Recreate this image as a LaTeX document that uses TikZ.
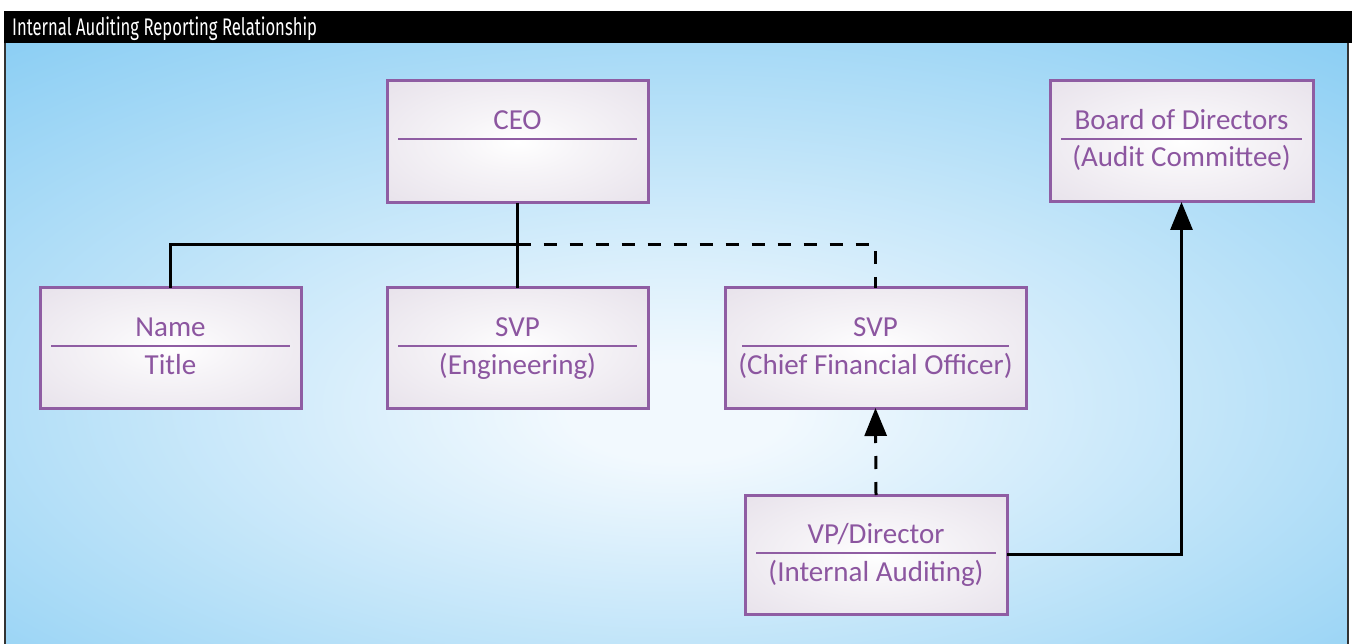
\documentclass[tikz,border=0pt]{standalone}
\usepackage{fontspec}
\setmainfont{Carlito}
\newfontfamily\titlefont{Fira Sans}
\usetikzlibrary{arrows.meta,calc}
\definecolor{bgblue}{RGB}{134,204,243}
\definecolor{bglight}{RGB}{242,249,254}
\definecolor{boxpurple}{RGB}{143,93,163}
\definecolor{txtpurple}{RGB}{140,86,160}
\definecolor{boxedge}{RGB}{226,219,230}
\pgfdeclareradialshading{bgshade}{\pgfpoint{0bp}{-6bp}}{color(0bp)=(bglight); color(4bp)=(bglight); color(40bp)=(bgblue); color(100bp)=(bgblue)}
\pgfdeclareradialshading{boxshade}{\pgfpoint{0bp}{0bp}}{color(0bp)=(white); color(12bp)=(white!70!boxedge); color(45bp)=(boxedge); color(100bp)=(boxedge)}
\tikzset{
  orgbox/.style={draw=boxpurple, line width=3pt, shading=boxshade, rectangle, minimum width=#1, minimum height=120pt, inner sep=0pt, outer sep=0pt},
  lbl/.style={anchor=base, text=txtpurple, font=\fontsize{29}{34}\selectfont, inner sep=0pt},
  sepline/.style={draw=boxpurple, line width=2.5pt},
  conn/.style={draw=black, line width=3pt},
  dashconn/.style={conn, dash pattern=on 13pt off 13pt},
  tip/.style={-{Triangle[width=22pt,length=28pt]}}
}
\begin{document}
\begin{tikzpicture}[x=1pt,y=-1pt]
\useasboundingbox (0,0) rectangle (1352,644);
\fill[white] (0,0) rectangle (1352,644);
\shade[shading=bgshade] (5,43) rectangle (1348,644);
\draw[line width=1.2pt, black!80] (5,43) -- (5,644);
\draw[line width=1.2pt, black!80] (1348,43) -- (1348,644);
\fill[black] (4,11) rectangle (1352,43);
\node[anchor=base west, text=white, inner sep=0pt, font=\titlefont\fontsize{24}{28}\selectfont] (title) at (12,36) {\scalebox{0.694}[1]{Internal Auditing Reporting Relationship}};

% boxes
\node[orgbox=261pt, minimum height=122pt] (ceo) at (517.5,142) {};
\node[orgbox=261pt] (name) at (170.5,348) {};
\node[orgbox=261pt] (eng) at (517.5,348) {};
\node[orgbox=301pt] (cfo) at (875.5,348) {};
\node[orgbox=262pt, minimum height=119pt] (vp) at (876,554.5) {};
\node[orgbox=263pt, minimum height=121pt] (board) at (1181.5,141.5) {};

% labels and separators
\node[lbl] (ceoA) at ($(ceo.north)+(0,48.5)$) {CEO};
\draw[sepline] ($(ceo.north west)+(11,58)$) -- ($(ceo.north east)+(-11,58)$);

\node[lbl] (nameA) at ($(name.north)+(0,48.5)$) {Name};
\node[lbl] (nameB) at ($(name.north)+(0,86)$) {Title};
\draw[sepline] ($(name.north west)+(11,58)$) -- ($(name.north east)+(-11,58)$);

\node[lbl] (engA) at ($(eng.north)+(0,48.5)$) {SVP};
\node[lbl] (engB) at ($(eng.north)+(0,86)$) {(Engineering)};
\draw[sepline] ($(eng.north west)+(11,58)$) -- ($(eng.north east)+(-11,58)$);

\node[lbl] (cfoA) at ($(cfo.north)+(0,48.5)$) {SVP};
\node[lbl] (cfoB) at ($(cfo.north)+(0,86)$) {(Chief Financial Officer)};
\draw[sepline] ($(cfo.north west)+(17,58)$) -- ($(cfo.north east)+(-17,58)$);

\node[lbl] (vpA) at ($(vp.north)+(0,48.5)$) {VP/Director};
\node[lbl] (vpB) at ($(vp.north)+(0,86)$) {(Internal Auditing)};
\draw[sepline] ($(vp.north west)+(11,58)$) -- ($(vp.north east)+(-11,58)$);

\node[lbl] (boardA) at ($(board.north)+(0,48.5)$) {Board of Directors};
\node[lbl] (boardB) at ($(board.north)+(0,86)$) {(Audit Committee)};
\draw[sepline] ($(board.north west)+(11,58)$) -- ($(board.north east)+(-11,58)$);

% connectors
\coordinate (j) at (517.5,245);
\draw[conn] (ceo.south) -- (eng.north);
\draw[conn] (j) -| (name.north);
\draw[dashconn] (j) -| (cfo.north);
\draw[dashconn, tip] (vp.north) -- (cfo.south);
\draw[conn, tip] (vp.east) -| (board.south);
\end{tikzpicture}
\end{document}
